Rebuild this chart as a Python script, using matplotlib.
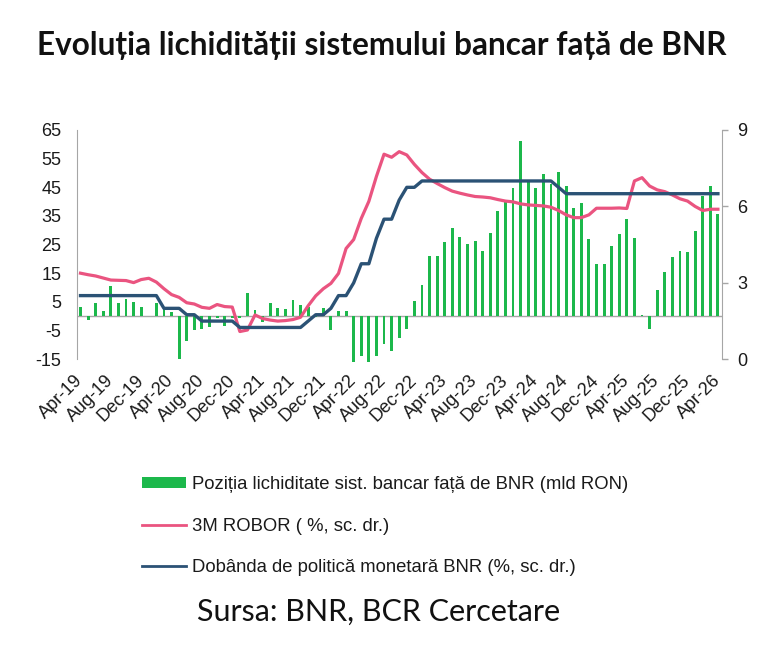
import matplotlib
matplotlib.use('Agg')
import matplotlib.pyplot as plt
import numpy as np
from matplotlib.patches import Patch
from matplotlib.lines import Line2D

# ---------------- data ----------------
n_months = 85  # Apr-19 ... Apr-26, monthly
tick_labels = ['Apr-19', 'Aug-19', 'Dec-19', 'Apr-20', 'Aug-20', 'Dec-20',
               'Apr-21', 'Aug-21', 'Dec-21', 'Apr-22', 'Aug-22', 'Dec-22',
               'Apr-23', 'Aug-23', 'Dec-23', 'Apr-24', 'Aug-24', 'Dec-24',
               'Apr-25', 'Aug-25', 'Dec-25', 'Apr-26']

liquidity = [3.2, -1.3, 4.6, 2.0, 10.6, 4.6, 6.2, 5.0, 3.2, 0.2,
             4.8, 2.5, 1.5, -14.8, -8.7, -4.8, -4.5, -3.6, -0.5, -3.3,
             -0.5, -0.5, 8.3, 2.2, -2.0, 4.6, 3.0, 2.7, 5.7, 3.9,
             3.4, -0.3, 2.8, -4.8, 1.7, 1.9, -16.0, -13.9, -16.0, -13.7,
             -9.7, -12.1, -7.5, -4.5, 5.3, 11.0, 21.2, 21.0, 26.0, 30.7,
             27.5, 25.3, 26.1, 22.9, 29.1, 36.7, 40.5, 44.7, 61.0, 47.0,
             44.8, 49.8, 46.3, 50.5, 45.6, 37.7, 39.6, 27.1, 18.3, 18.3,
             24.6, 28.8, 34.0, 27.3, 0.3, -4.5, 9.2, 15.4, 20.7, 22.7,
             22.6, 29.6, 42.0, 45.3, 35.6]

robor_3m = [3.38, 3.32, 3.27, 3.19, 3.11, 3.10, 3.09, 3.01, 3.13, 3.18,
            3.03, 2.77, 2.54, 2.43, 2.22, 2.17, 2.04, 2.00, 2.15, 2.07,
            2.05, 1.09, 1.15, 1.74, 1.60, 1.54, 1.50, 1.52, 1.56, 1.65,
            2.10, 2.49, 2.77, 2.98, 3.37, 4.35, 4.70, 5.53, 6.20, 7.18,
            8.05, 7.93, 8.15, 8.02, 7.65, 7.33, 7.07, 6.90, 6.74, 6.60,
            6.52, 6.45, 6.39, 6.37, 6.34, 6.27, 6.21, 6.18, 6.10, 6.06,
            6.04, 6.02, 5.97, 5.84, 5.67, 5.56, 5.56, 5.67, 5.93, 5.93,
            5.93, 5.94, 5.92, 7.00, 7.13, 6.80, 6.65, 6.58, 6.45, 6.30,
            6.21, 6.00, 5.84, 5.89, 5.89]

policy_rate = [2.5] * 11 + [2.0] * 3 + [1.75] * 2 + [1.5] * 5 + [1.25] * 9 + \
              [1.5, 1.75, 1.75, 2.0, 2.5, 2.5, 3.0, 3.75, 3.75, 4.75, 5.5, 5.5,
               6.25, 6.75, 6.75] + [7.0] * 18 + [6.75] + [6.5] * 21

legend_labels = ['Poziția lichiditate sist. bancar față de BNR (mld RON)',
                 '3M ROBOR ( %, sc. dr.)',
                 'Dobânda de politică monetară BNR (%, sc. dr.)']
title_text = 'Evoluția lichidității sistemului bancar față de BNR'
source_text = 'Sursa: BNR, BCR Cercetare'

# ---------------- style ----------------
GREEN = '#1cb84b'
PINK = '#ea5480'
BLUE = '#2b5275'
GRAY = '#a6a6a6'
TXT = '#1a1a1a'
FONT = ['Liberation Sans', 'DejaVu Sans']

plt.rcParams['font.family'] = FONT
plt.rcParams['axes.unicode_minus'] = False

fig = plt.figure(figsize=(7.68, 6.56), dpi=100)
W, H = 768, 656
left, right, top, bottom = 76.7, 721.7, 130.0, 359.3
ax = fig.add_axes([left / W, 1 - bottom / H, (right - left) / W, (bottom - top) / H])
ax2 = ax.twinx()

x = np.arange(n_months)
ax.bar(x, liquidity, width=0.38, color=GREEN, zorder=2, clip_on=False)
ax.axhline(0, color=GRAY, lw=1.0, zorder=1)
ax.set_xlim(-0.5, n_months - 0.5)
ax.set_ylim(-15, 65)
ax.set_yticks(np.arange(-15, 66, 10))
ax.set_xticks(np.arange(0, n_months, 4))
ax.set_xticklabels(tick_labels, rotation=45, ha='right', va='center',
                   rotation_mode='anchor', fontsize=13, color=TXT)
ax.tick_params(axis='x', length=0, pad=13.5)
ax.tick_params(axis='y', length=0, pad=11, labelsize=13, labelcolor=TXT)

ax2.plot(x, robor_3m, color=PINK, lw=2.3, zorder=3, solid_joinstyle='round')
ax2.plot(x, policy_rate, color=BLUE, lw=2.4, zorder=4, solid_joinstyle='round')
ax2.set_ylim(0, 9)
ax2.set_yticks([0, 3, 6, 9])
ax2.tick_params(axis='y', direction='out', length=4, width=1, color=GRAY,
                pad=7, labelsize=13, labelcolor=TXT)

for a in (ax, ax2):
    a.patch.set_visible(False)
    for s in ('top', 'bottom'):
        a.spines[s].set_visible(False)
ax.spines['right'].set_visible(False)
ax2.spines['left'].set_visible(False)
ax.spines['left'].set_color(GRAY)
ax2.spines['right'].set_color(GRAY)

handles = [Patch(facecolor=GREEN, edgecolor='none'),
           Line2D([0], [0], color=PINK, lw=2.0),
           Line2D([0], [0], color=BLUE, lw=2.0)]
leg = fig.legend(handles, legend_labels, loc='upper left',
                 bbox_to_anchor=(141.5 / W, 1 - 476 / H), frameon=False,
                 fontsize=13.3, borderpad=0, borderaxespad=0,
                 handlelength=2.4, handleheight=0.55, handletextpad=0.33,
                 labelspacing=1.33)
for t in leg.get_texts():
    t.set_color(TXT)

title = fig.text(382 / W, 1 - 45 / H, title_text, ha='center', va='center',
                 fontsize=20, fontweight='bold', family=['Lato', 'DejaVu Sans'],
                 color='#111111')
source = fig.text(378.5 / W, 1 - 612 / H, source_text, ha='center', va='center',
                  fontsize=16, family=['Lato', 'DejaVu Sans'], color='#111111')

fig.canvas.draw()
for txt, target in ((title, 690.0), (source, 365.0)):
    w = txt.get_window_extent().width
    txt.set_fontsize(txt.get_fontsize() * target / w)

fig.savefig('out.png', dpi=100, facecolor='white')
